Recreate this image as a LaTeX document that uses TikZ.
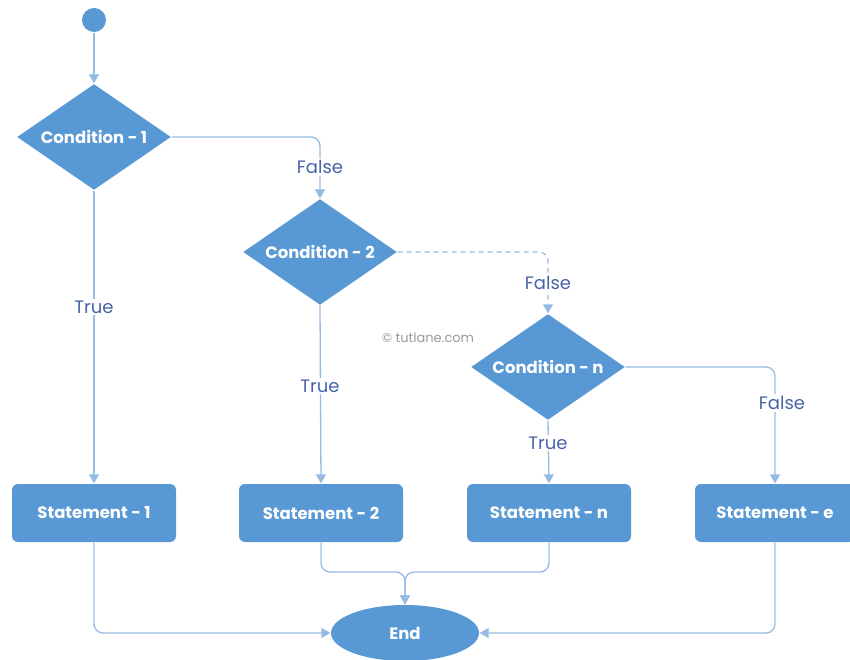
\documentclass[tikz,border=0pt]{standalone}
\usepackage{fontspec}
\setmainfont{Poppins}
\usetikzlibrary{shapes.geometric,arrows.meta}

\definecolor{boxblue}{RGB}{88,152,212}
\definecolor{lineblue}{RGB}{150,187,226}
\definecolor{textblue}{RGB}{72,100,168}

\begin{document}
\begin{tikzpicture}[x=1pt,y=-1pt,
  line width=1.3pt,
  every node/.style={font=\fontsize{17}{20}\selectfont},
  cond/.style={diamond,aspect=1.45,fill=boxblue,text=white,font=\fontsize{16.5}{20}\selectfont\bfseries,inner sep=0pt,minimum width=154pt,minimum height=106pt},
  stmt/.style={rectangle,rounded corners=6pt,fill=boxblue,text=white,font=\fontsize{16.5}{20}\selectfont\bfseries,minimum width=164pt,minimum height=58pt},
  flow/.style={draw=lineblue,rounded corners=9pt,-{Triangle[width=10pt,length=9pt]}},
  lbl/.style={fill=white,text=textblue,inner sep=2pt,font=\fontsize{18}{20}\selectfont}]

\useasboundingbox (0,0) rectangle (850,660);

\node[circle,fill=boxblue,minimum size=24pt,inner sep=0pt] (start) at (94,20){};

\node[cond] (c1) at (94,137){Condition - 1};
\node[cond] (c2) at (320,252){Condition - 2};
\node[cond] (cn) at (548,367){Condition - n};

\node[stmt] (s1) at (94,513){Statement - 1};
\node[stmt] (s2) at (321,513){Statement - 2};
\node[stmt] (sn) at (549,513){Statement - n};
\node[stmt,minimum width=160pt] (se) at (775,513){Statement - e};

\node[ellipse,fill=boxblue,text=white,font=\fontsize{16.5}{20}\selectfont\bfseries,minimum width=148pt,minimum height=56pt] (end) at (405,633){End};

\node[text=gray!80,font=\fontsize{13}{15}\selectfont] (mark) at (428,338){\textcopyright{} tutlane.com};

\draw[flow] (start) -- (c1);

\draw[flow] (c1.east) -- (c1.east -| c2.north) -- (c2.north);
\draw[flow] (c1.south) -- (s1.north);
\draw[flow,dash pattern=on 5pt off 4pt] (c2.east) -- (c2.east -| cn.north) -- (cn.north);
\draw[flow] (c2.south) -- (s2.north);
\draw[flow] (cn.east) -- (cn.east -| se.north) -- (se.north);
\draw[flow] (cn.south) -- (sn.north);

\node[lbl] (f1) at (320,167){False};
\node[lbl] (t1) at (94,307){True};
\node[lbl] (f2) at (548,283){False};
\node[lbl] (t2) at (320,386){True};
\node[lbl] (f3) at (782,403){False};
\node[lbl] (t3) at (548,443){True};

\coordinate (join) at (405,572);
\draw[flow] (s1.south) -- (s1.south |- end.west) -- (end.west);
\draw[flow] (s2.south) -- (s2.south |- join) -- (join) -- (end.north);
\draw[flow] (sn.south) -- (sn.south |- join) -- (join) -- (end.north);
\draw[flow] (se.south) -- (se.south |- end.east) -- (end.east);

\end{tikzpicture}
\end{document}
